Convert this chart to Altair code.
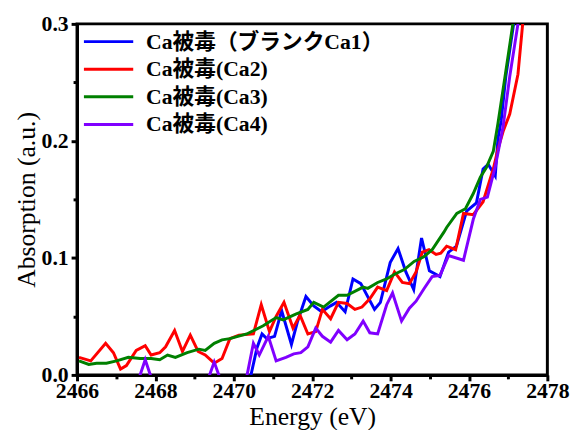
import altair as alt
import pandas as pd

# ---- data ----
series_names = ["Ca被毒（ブランクCa1）", "Ca被毒(Ca2)", "Ca被毒(Ca3)", "Ca被毒(Ca4)"]
series_colors = ["#0000ff", "#ff0000", "#008000", "#8000ff"]

ca1_e = [2470.36, 2470.59, 2470.72, 2470.84, 2471.04, 2471.22, 2471.47, 2471.62, 2471.84, 2472.04,
         2472.24, 2472.47, 2472.62, 2472.84, 2473.04, 2473.24, 2473.59, 2473.74, 2473.99, 2474.19,
         2474.39, 2474.59, 2474.79, 2474.99, 2475.26, 2475.48, 2475.68, 2475.94, 2476.19, 2476.36,
         2476.49, 2476.67, 2476.74, 2476.82, 2476.94, 2477.14, 2477.22]
ca1_a = [-0.012, 0.023, 0.035, 0.031, 0.033, 0.055, 0.026, 0.045, 0.067, 0.059,
         0.054, 0.059, 0.062, 0.054, 0.082, 0.078, 0.056, 0.062, 0.096, 0.108,
         0.088, 0.073, 0.117, 0.089, 0.084, 0.105, 0.110, 0.140, 0.147, 0.176,
         0.180, 0.170, 0.202, 0.217, 0.255, 0.300, 0.330]

ca2_e = [2466.05, 2466.35, 2466.73, 2466.93, 2467.11, 2467.26, 2467.51, 2467.74, 2467.89, 2468.11,
         2468.26, 2468.49, 2468.69, 2468.89, 2469.09, 2469.27, 2469.50, 2469.70, 2469.90, 2470.13,
         2470.50, 2470.70, 2470.91, 2471.08, 2471.28, 2471.51, 2471.69, 2471.89, 2472.09, 2472.26,
         2472.47, 2472.67, 2472.89, 2473.09, 2473.27, 2473.47, 2473.67, 2473.90, 2474.10, 2474.30,
         2474.48, 2474.65, 2474.81, 2474.98, 2475.16, 2475.28, 2475.43, 2475.66, 2475.86, 2476.11,
         2476.36, 2476.62, 2476.74, 2476.87, 2477.04, 2477.25, 2477.37, 2477.45]
ca2_a = [0.015, 0.012, 0.027, 0.019, 0.005, 0.008, 0.021, 0.025, 0.017, 0.019,
         0.024, 0.038, 0.020, 0.034, 0.020, 0.017, 0.010, 0.014, 0.031, 0.034,
         0.035, 0.060, 0.037, 0.050, 0.062, 0.040, 0.051, 0.035, 0.037, 0.056,
         0.048, 0.062, 0.061, 0.056, 0.058, 0.065, 0.075, 0.072, 0.088, 0.079,
         0.078, 0.088, 0.105, 0.107, 0.103, 0.104, 0.110, 0.107, 0.138, 0.137,
         0.148, 0.176, 0.193, 0.208, 0.223, 0.257, 0.300, 0.330]

ca3_e = [2466.05, 2466.30, 2466.50, 2466.75, 2467.01, 2467.31, 2467.61, 2467.89, 2468.11, 2468.31,
         2468.51, 2468.81, 2469.11, 2469.27, 2469.50, 2469.70, 2469.90, 2470.33, 2470.75, 2471.08,
         2471.26, 2471.58, 2471.89, 2472.04, 2472.29, 2472.67, 2472.89, 2473.30, 2473.42, 2473.67,
         2473.90, 2474.10, 2474.35, 2474.60, 2474.85, 2475.06, 2475.36, 2475.43, 2475.69, 2475.91,
         2476.11, 2476.29, 2476.44, 2476.62, 2476.74, 2476.92, 2477.12, 2477.20]
ca3_a = [0.012, 0.009, 0.010, 0.010, 0.012, 0.015, 0.014, 0.014, 0.013, 0.017,
         0.015, 0.019, 0.022, 0.021, 0.027, 0.030, 0.031, 0.035, 0.042, 0.049,
         0.047, 0.052, 0.056, 0.062, 0.058, 0.068, 0.068, 0.075, 0.074, 0.079,
         0.082, 0.086, 0.090, 0.097, 0.101, 0.107, 0.122, 0.126, 0.138, 0.142,
         0.155, 0.169, 0.177, 0.191, 0.215, 0.255, 0.300, 0.330]

ca4_e = [2467.41, 2467.74, 2468.07,
         2469.17, 2469.50, 2469.83,
         2470.28, 2470.50, 2470.65, 2470.88, 2471.08, 2471.33, 2471.53, 2471.71, 2471.89, 2472.09,
         2472.26, 2472.47, 2472.67, 2472.89, 2473.09, 2473.30, 2473.47, 2473.67, 2473.90, 2474.05,
         2474.28, 2474.48, 2474.65, 2474.86, 2475.06, 2475.26, 2475.48, 2475.86, 2476.11, 2476.29,
         2476.47, 2476.67, 2476.87, 2477.04, 2477.25, 2477.37]
ca4_a = [-0.020, 0.013, -0.020,
         -0.020, 0.011, -0.020,
         -0.010, 0.027, 0.017, 0.033, 0.012, 0.015, 0.018, 0.019, 0.024, 0.040,
         0.033, 0.028, 0.038, 0.030, 0.035, 0.046, 0.036, 0.035, 0.060, 0.070,
         0.046, 0.057, 0.063, 0.074, 0.084, 0.085, 0.102, 0.098, 0.133, 0.150,
         0.152, 0.178, 0.212, 0.255, 0.300, 0.340]
ca4_seg = [0, 0, 0, 1, 1, 1] + [2] * 36

x_ticks = [2466, 2467, 2468, 2469, 2470, 2471, 2472, 2473, 2474, 2475, 2476, 2477, 2478]
y_ticks = [0.0, 0.05, 0.1, 0.15, 0.2, 0.25, 0.3]

rows = []
for e, a in zip(ca1_e, ca1_a):
    rows.append({"E": e, "A": a, "series": series_names[0], "seg": "a0"})
for e, a in zip(ca2_e, ca2_a):
    rows.append({"E": e, "A": a, "series": series_names[1], "seg": "b0"})
for e, a in zip(ca3_e, ca3_a):
    rows.append({"E": e, "A": a, "series": series_names[2], "seg": "c0"})
for e, a, s in zip(ca4_e, ca4_a, ca4_seg):
    rows.append({"E": e, "A": a, "series": series_names[3], "seg": "d" + str(s)})
df = pd.DataFrame(rows)

LAT = "'Liberation Serif', serif"
LEG_FONT = "'Liberation Serif', 'Noto Sans CJK JP', serif"

x_axis = alt.Axis(
    values=x_ticks, format="d",
    labelExpr="datum.value % 2 == 0 ? datum.label : ''",
    tickSize={"condition": {"test": "datum.value % 2 == 0", "value": 6}, "value": 4},
    tickWidth=3, tickColor="black", domainWidth=3, domainColor="black",
    labelFont=LAT, labelFontWeight="bold", labelFontSize=22, labelColor="black",
    labelPadding=0, labelFlush=False,
    title="Energy (eV)", titleFont=LAT, titleFontSize=26, titleFontWeight="normal",
    titleColor="black", titlePadding=2, grid=False,
)
y_axis = alt.Axis(
    values=y_ticks, format=".1f",
    labelExpr="round(datum.value * 100) % 10 == 0 ? datum.label : ''",
    tickSize={"condition": {"test": "round(datum.value * 100) % 10 == 0", "value": 6}, "value": 4},
    tickWidth=3, tickColor="black", domainWidth=3, domainColor="black",
    labelFont=LAT, labelFontWeight="bold", labelFontSize=22, labelColor="black",
    labelPadding=3, labelFlush=False,
    title="Absorption (a.u.)", titleFont=LAT, titleFontSize=26, titleFontWeight="normal",
    titleColor="black", titlePadding=2, grid=False,
)

legend = alt.Legend(
    title=None, orient="none", legendX=21, legendY=7, padding=0,
    symbolType="M-5,0H5", symbolSize=100, symbolStrokeWidth=3,
    labelFont=LEG_FONT, labelFontSize=22, labelFontWeight="bold", labelColor="black",
    labelOffset=27, rowPadding=6, labelLimit=400,
)

chart = alt.Chart(df).mark_line(strokeWidth=3, clip=True).encode(
    x=alt.X("E:Q", scale=alt.Scale(domain=[2466, 2478], nice=False, zero=False), axis=x_axis),
    y=alt.Y("A:Q", scale=alt.Scale(domain=[0, 0.3], nice=False), axis=y_axis),
    color=alt.Color("series:N", scale=alt.Scale(domain=series_names, range=series_colors),
                    legend=legend),
    detail="seg:N",
).properties(
    width=477, height=356,
    autosize=alt.AutoSizeParams(type="none"),
    padding={"left": 70, "top": 13, "right": 26, "bottom": 70},
).configure_view(stroke="black", strokeWidth=3)

chart.save("out.html", embed_options={"renderer": "svg", "actions": False})
